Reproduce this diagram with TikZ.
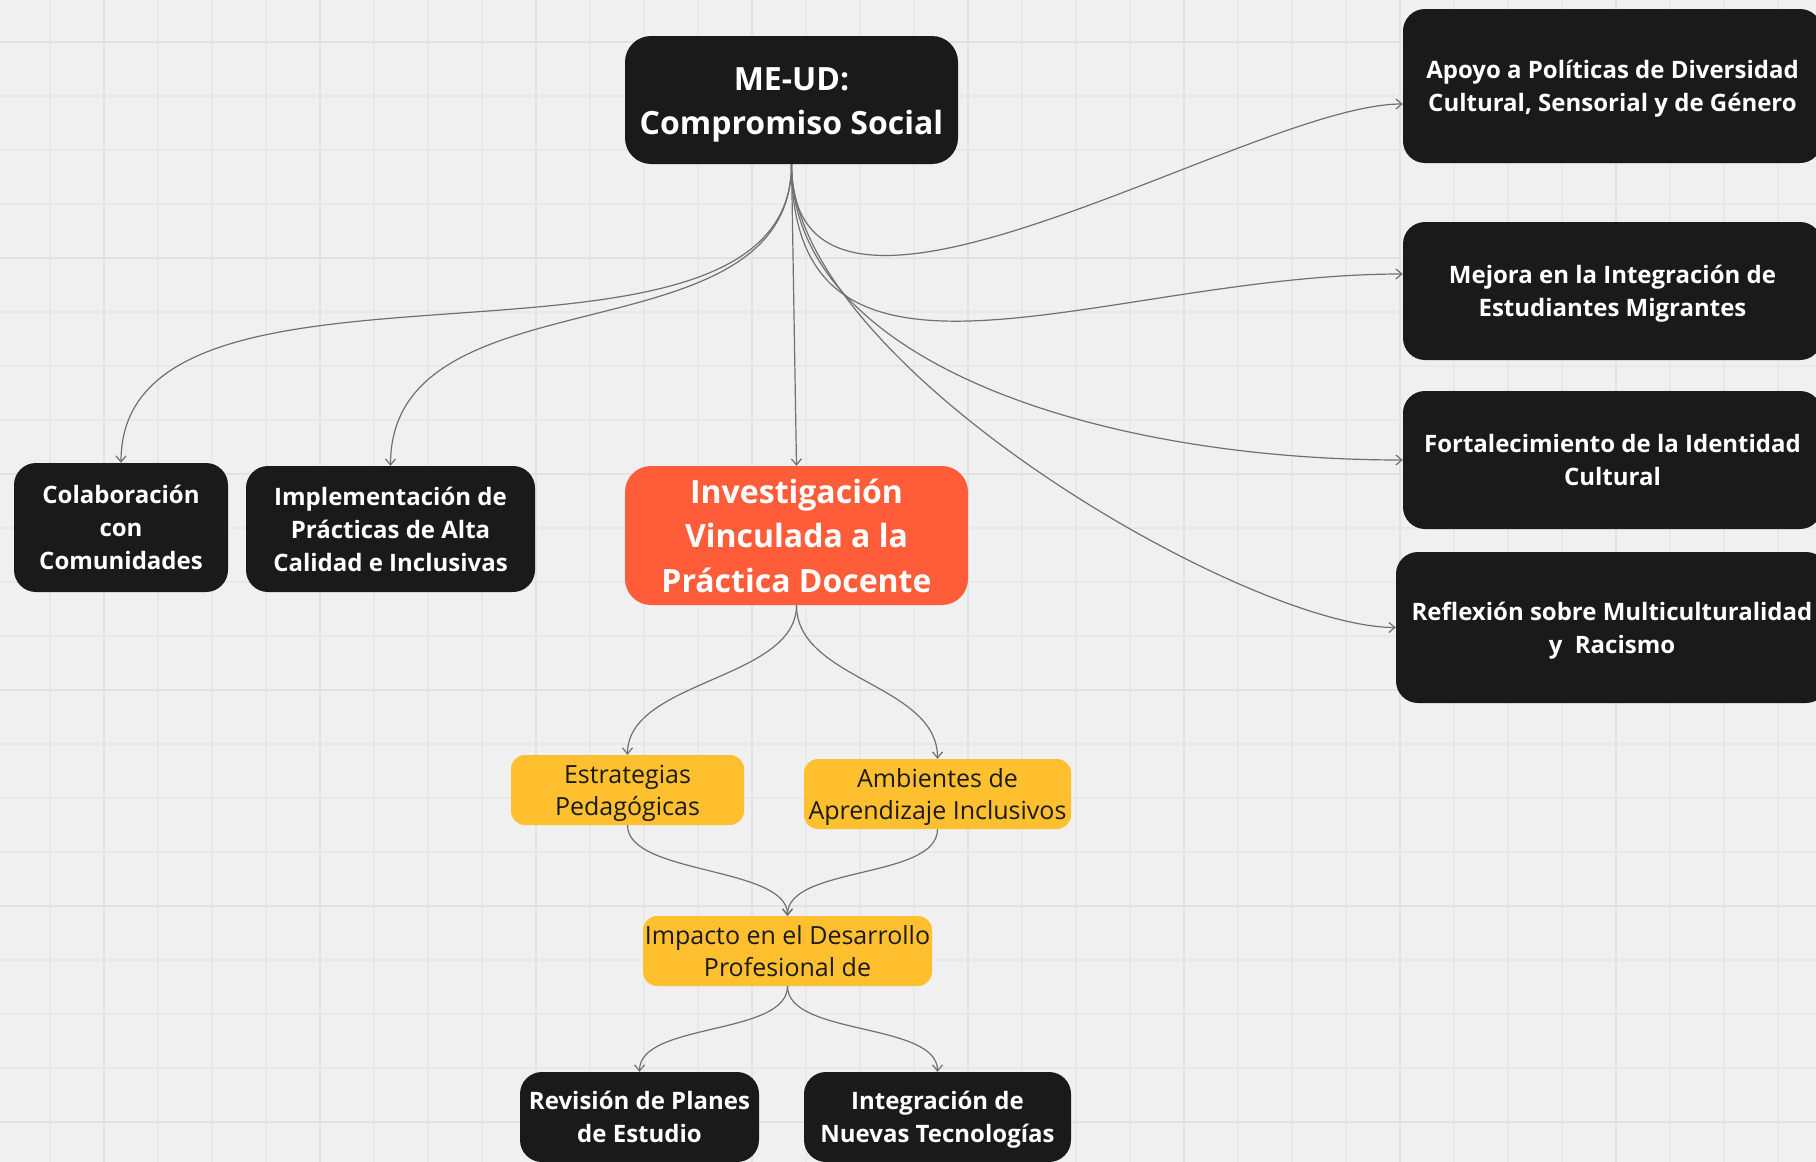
\documentclass[tikz,border=0pt]{standalone}
\usepackage{fontspec}
\setmainfont{Open Sans}
\usetikzlibrary{arrows.meta}

\definecolor{bg}{HTML}{F0F0F0}
\definecolor{gridminor}{HTML}{E8E8E8}
\definecolor{gridmajor}{HTML}{E2E2E2}
\definecolor{nodeblack}{HTML}{1A1A1A}
\definecolor{nodeorange}{HTML}{FF5C39}
\definecolor{nodeyellow}{HTML}{FFC030}
\definecolor{wire}{HTML}{707070}

% line-box struts (first line / last line)
\newcommand{\tsx}{\rule{0pt}{1.06em}}
\newcommand{\bsx}{\rule[-0.28em]{0pt}{0pt}}

\begin{document}
\begin{tikzpicture}[x=1pt,y=-1pt,
  box/.style={rectangle, rounded corners=22pt, inner sep=0pt, align=center},
  darkbox/.style={box, fill=nodeblack, text=white, font=\bfseries\fontsize{24}{33}\selectfont},
  bigbox/.style={box, rounded corners=26pt, text=white, font=\bfseries\fontsize{32}{44.5}\selectfont},
  yellowbox/.style={box, fill=nodeyellow, text=nodeblack, rounded corners=14pt, font=\fontsize{25}{32}\selectfont},
  wirestyle/.style={draw=wire, line width=1.2pt, -{Straight Barb[length=6pt,width=10pt]}},
]
\useasboundingbox (0,0) rectangle (1816,1162);
\clip (0,0) rectangle (1816,1162);
\fill[bg] (0,0) rectangle (1816,1162);

% grid
\foreach \i in {-1,...,32} {
  \pgfmathtruncatemacro{\m}{mod(\i+4,4)}
  \ifnum\m=0
    \draw[gridmajor, line width=2pt] ({104+54*\i},0) -- ({104+54*\i},1162);
  \else
    \draw[gridminor, line width=1.2pt] ({104+54*\i},0) -- ({104+54*\i},1162);
  \fi
}
\foreach \j in {-1,...,21} {
  \pgfmathtruncatemacro{\m}{mod(\j+4,4)}
  \ifnum\m=0
    \draw[gridmajor, line width=2pt] (0,{42+54*\j}) -- (1816,{42+54*\j});
  \else
    \draw[gridminor, line width=1.2pt] (0,{42+54*\j}) -- (1816,{42+54*\j});
  \fi
}

% nodes
\node[bigbox, fill=nodeblack, minimum width=333pt, minimum height=128pt] (root) at (791.5,100) {\tsx ME-UD:\\Compromiso Social\bsx};
\node[darkbox, minimum width=214pt, minimum height=129pt] (colab) at (121,527.5) {\tsx Colaboración\\con\\Comunidades\bsx};
\node[darkbox, minimum width=289pt, minimum height=126pt] (impl) at (390.5,529) {\tsx Implementación de\\Prácticas de Alta\\Calidad e Inclusivas\bsx};
\node[bigbox, fill=nodeorange, minimum width=343pt, minimum height=139pt] (invest) at (796.5,535.5) {\tsx Investigación\\Vinculada a la\\Práctica Docente\bsx};

\node[darkbox, minimum width=419pt, minimum height=154pt] (apoyo) at (1612.5,86) {\tsx Apoyo a Políticas de Diversidad\\Cultural, Sensorial y de Género\bsx};
\node[darkbox, minimum width=419pt, minimum height=138pt] (mejora) at (1612.5,291) {\tsx Mejora en la Integración de\\Estudiantes Migrantes\bsx};
\node[darkbox, minimum width=419pt, minimum height=138pt] (fort) at (1612.5,460) {\tsx Fortalecimiento de la Identidad\\Cultural\bsx};
\node[darkbox, minimum width=432pt, minimum height=151pt] (reflex) at (1612,627.5) {\tsx Reflexión sobre Multiculturalidad\\y\ \ Racismo\bsx};

\node[yellowbox, minimum width=233pt, minimum height=70pt] (estr) at (627.5,790) {\tsx Estrategias\\Pedagógicas\bsx};
\node[yellowbox, minimum width=267pt, minimum height=70pt] (amb) at (937.5,794) {\tsx Ambientes de\\Aprendizaje Inclusivos\bsx};
\node[yellowbox, minimum width=289pt, minimum height=70pt] (imp) at (787.5,951) {\tsx Impacto en el Desarrollo\\Profesional de\bsx};

\node[darkbox, minimum width=239pt, minimum height=90pt] (rev) at (639.5,1117) {\tsx Revisión de Planes\\de Estudio\bsx};
\node[darkbox, minimum width=267pt, minimum height=90pt] (integ) at (937.5,1117) {\tsx Integración de\\Nuevas Tecnologías\bsx};

% connectors
\draw[wirestyle] (root.south) .. controls +(0,250) and +(0,-250) .. (colab.north);
\draw[wirestyle] (root.south) .. controls +(0,200) and +(0,-200) .. (impl.north);
\draw[wirestyle] (root.south) -- (invest.north);
\draw[wirestyle] (root.south) .. controls +(0,236) and +(-153,0) .. ([yshift=-18pt]apoyo.west);
\draw[wirestyle] (root.south) .. controls +(0,270) and +(-300,0) .. ([yshift=17pt]mejora.west);
\draw[wirestyle] (root.south) .. controls +(0,200) and +(-300,0) .. (fort.west);
\draw[wirestyle] (root.south) .. controls +(0,200) and +(-150,0) .. (reflex.west);

\draw[wirestyle] (invest.south) .. controls +(0,75) and +(0,-75) .. (estr.north);
\draw[wirestyle] (invest.south) .. controls +(0,75) and +(0,-75) .. (amb.north);
\draw[wirestyle] (estr.south) .. controls +(0,50) and +(0,-50) .. (imp.north);
\draw[wirestyle] (amb.south) .. controls +(0,50) and +(0,-50) .. (imp.north);
\draw[wirestyle] (imp.south) .. controls +(0,50) and +(0,-50) .. (rev.north);
\draw[wirestyle] (imp.south) .. controls +(0,50) and +(0,-50) .. (integ.north);
\end{tikzpicture}
\end{document}
